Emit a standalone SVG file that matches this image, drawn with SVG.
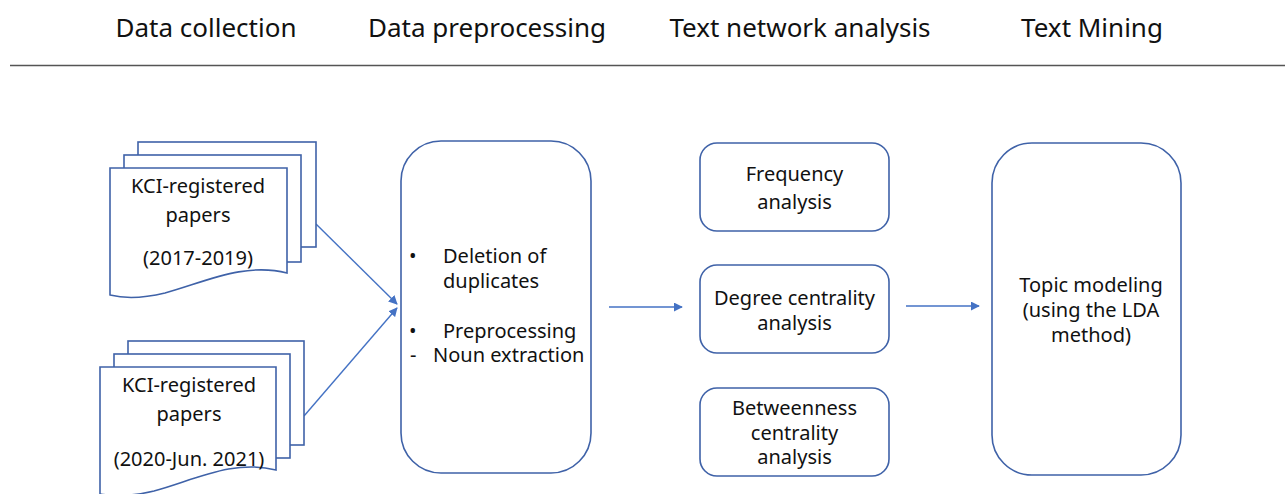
<svg xmlns="http://www.w3.org/2000/svg" width="1285" height="494" viewBox="0 0 1285 494">
<style>
.hdr{font-family:"Noto Sans","Open Sans",sans-serif;font-size:26px;fill:#111;text-anchor:middle}
.t{font-family:"Noto Sans","Open Sans",sans-serif;font-size:20px;fill:#111;text-anchor:middle}
.tl{font-family:"Noto Sans","Open Sans",sans-serif;font-size:20px;fill:#111}
.box{fill:#fff;stroke:#3F62A8;stroke-width:1.6}
.pg{fill:#fff;stroke:#3F62A8;stroke-width:1.6}
.conn{stroke:#4472C4;stroke-width:1.4;fill:none;marker-end:url(#ah)}
</style>
<defs>
<marker id="ah" viewBox="0 0 10 10" refX="9" refY="5" markerWidth="9" markerHeight="9" markerUnits="userSpaceOnUse" orient="auto">
<path d="M0,0 L10,5 L0,10 Z" fill="#4472C4"/>
</marker>
</defs>
<rect width="1285" height="494" fill="#fff"/>
<g id="header">
<text class="hdr" x="206" y="37">Data collection</text>
<text class="hdr" x="487" y="37">Data preprocessing</text>
<text class="hdr" x="800" y="37">Text network analysis</text>
<text class="hdr" x="1092" y="37">Text Mining</text>
<line x1="10" y1="65.5" x2="1285" y2="65.5" stroke="#555" stroke-width="1.4"/>
</g>
<g id="connectors">
<line class="conn" x1="316" y1="224" x2="397" y2="304"/>
<line class="conn" x1="304" y1="416" x2="397" y2="308"/>
<line class="conn" x1="609" y1="307" x2="682" y2="307"/>
<line class="conn" x1="906" y1="306" x2="979" y2="306"/>
</g>
<g id="papers-2017-2019">
<rect class="pg" x="138" y="142" width="178" height="105"/>
<rect class="pg" x="124" y="155" width="177" height="107"/>
<path class="pg" d="M110,168 H287 V273 C245,262 205,282 165,293 C140,299 122,298 110,295 Z"/>
<text class="t" x="198" y="193">KCI-registered</text>
<text class="t" x="198" y="222">papers</text>
<text class="t" x="198" y="265">(2017-2019)</text>
</g>
<g id="papers-2020-2021">
<rect class="pg" x="128" y="341" width="176" height="104"/>
<rect class="pg" x="114" y="354" width="176" height="104"/>
<path class="pg" d="M100,367 H276 V470 C234,459 194,480 154,491 C129,497 112,496 100,494 Z"/>
<text class="t" x="189" y="392">KCI-registered</text>
<text class="t" x="189" y="421">papers</text>
<text class="t" x="189" y="466">(2020-Jun. 2021)</text>
</g>
<g id="preprocessing">
<rect class="box" x="401" y="141" width="190" height="332" rx="40" ry="40"/>
<text class="tl" x="409" y="263">•</text>
<text class="tl" x="443" y="263">Deletion of</text>
<text class="tl" x="443" y="288">duplicates</text>
<text class="tl" x="409" y="338">•</text>
<text class="tl" x="443" y="338">Preprocessing</text>
<text class="tl" x="410" y="362">-</text>
<text class="tl" x="433" y="362">Noun extraction</text>
</g>
<g id="frequency">
<rect class="box" x="700" y="143" width="189" height="88" rx="17" ry="17"/>
<text class="t" x="794.5" y="181">Frequency</text>
<text class="t" x="794.5" y="209">analysis</text>
</g>
<g id="degree">
<rect class="box" x="700" y="265" width="189" height="88" rx="17" ry="17"/>
<text class="t" x="794.5" y="305">Degree centrality</text>
<text class="t" x="794.5" y="330">analysis</text>
</g>
<g id="betweenness">
<rect class="box" x="700" y="388" width="189" height="88" rx="17" ry="17"/>
<text class="t" x="794.5" y="415">Betweenness</text>
<text class="t" x="794.5" y="440">centrality</text>
<text class="t" x="794.5" y="464">analysis</text>
</g>
<g id="topic">
<rect class="box" x="992" y="143" width="189" height="332" rx="40" ry="40"/>
<text class="t" x="1091" y="292">Topic modeling</text>
<text class="t" x="1091" y="317">(using the LDA</text>
<text class="t" x="1091" y="342">method)</text>
</g>
</svg>
